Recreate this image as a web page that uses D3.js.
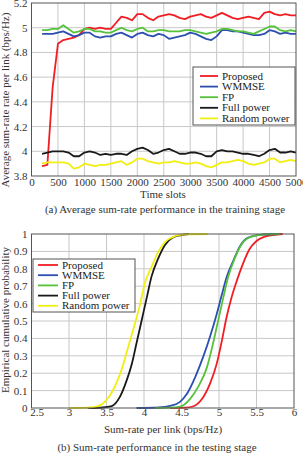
<!DOCTYPE html>
<html>
<head>
<meta charset="utf-8">
<script src="https://cdn.jsdelivr.net/npm/d3@7"></script>
<style>
  body { margin: 0; background: #fff; }
  svg { font-family: "Liberation Serif", "Times New Roman", serif; font-size: 11px; }
  .grid line { stroke: #c8c8c8; stroke-width: 1; }
  .frame { fill: none; stroke: #555; stroke-width: 1; }
  .series { fill: none; stroke-width: 1.8; stroke-linejoin: round; }
</style>
</head>
<body>
<svg id="chart" width="303" height="453"></svg>
<script>
// ---- data (a) training stage ----
var timeSlots = [200, 300, 400, 500, 600, 700, 800, 900, 1000, 1100, 1200, 1300, 1400, 1500, 1600, 1700, 1800, 1900,
  2000, 2100, 2200, 2300, 2400, 2500, 2600, 2700, 2800, 2900, 3000, 3100, 3200, 3300, 3400, 3500, 3600, 3700,
  3800, 3900, 4000, 4100, 4200, 4300, 4400, 4500, 4600, 4700, 4800, 4900, 5000];
var proposedTrain = [3.88, 3.89, 4.52, 4.87, 4.90, 4.91, 4.92, 4.94, 4.99, 5.00, 4.99, 5.00, 4.99, 4.99, 5.04, 5.09, 5.08, 5.06,
  5.11, 5.11, 5.08, 5.06, 5.09, 5.10, 5.11, 5.10, 5.08, 5.07, 5.09, 5.10, 5.11, 5.09, 5.08, 5.10, 5.12, 5.10,
  5.08, 5.07, 5.08, 5.09, 5.08, 5.07, 5.12, 5.13, 5.11, 5.10, 5.11, 5.10, 5.10];
var wmmseTrain = [4.95, 4.95, 4.95, 4.96, 4.97, 4.95, 4.93, 4.94, 4.96, 4.96, 4.93, 4.92, 4.93, 4.93, 4.95, 4.96, 4.94, 4.92,
  4.95, 4.96, 4.94, 4.93, 4.95, 4.94, 4.91, 4.92, 4.93, 4.94, 4.96, 4.95, 4.93, 4.91, 4.90, 4.93, 4.98, 4.98,
  4.97, 4.97, 4.96, 4.95, 4.94, 4.94, 4.95, 4.98, 4.97, 4.95, 4.96, 4.95, 4.95];
var fpTrain = [4.98, 4.98, 4.99, 4.99, 5.02, 4.99, 4.96, 4.97, 4.99, 4.99, 4.97, 4.97, 4.96, 4.96, 4.98, 5.00, 4.98, 4.97,
  4.99, 5.00, 4.97, 4.97, 4.98, 4.98, 4.97, 4.97, 4.97, 4.98, 4.98, 4.97, 4.96, 4.95, 4.96, 4.97, 4.99, 4.99,
  4.98, 4.97, 4.97, 4.96, 4.95, 4.97, 4.99, 5.01, 5.01, 4.98, 4.97, 4.98, 4.97];
var fullTrain = [3.98, 3.99, 4.00, 4.00, 4.00, 3.99, 3.96, 3.96, 3.99, 4.00, 3.99, 3.97, 3.98, 3.97, 3.98, 3.98, 3.97, 4.00,
  4.02, 4.03, 4.01, 3.98, 3.99, 4.01, 4.02, 4.00, 3.98, 3.98, 3.99, 3.99, 3.98, 3.96, 3.96, 4.00, 4.01, 4.00,
  4.00, 3.99, 3.98, 3.98, 3.97, 3.96, 3.98, 4.01, 4.02, 3.99, 3.99, 4.00, 3.99];
var randomTrain = [3.90, 3.91, 3.91, 3.91, 3.91, 3.90, 3.86, 3.87, 3.90, 3.89, 3.88, 3.89, 3.89, 3.90, 3.91, 3.92, 3.89, 3.91,
  3.94, 3.94, 3.92, 3.91, 3.90, 3.91, 3.91, 3.92, 3.91, 3.90, 3.90, 3.91, 3.90, 3.88, 3.87, 3.89, 3.91, 3.91,
  3.92, 3.93, 3.92, 3.90, 3.89, 3.90, 3.91, 3.94, 3.94, 3.91, 3.92, 3.93, 3.92];
var trainXTicks = [0, 500, 1000, 1500, 2000, 2500, 3000, 3500, 4000, 4500, 5000];
var trainYTicks = [3.8, 4, 4.2, 4.4, 4.6, 4.8, 5, 5.2];

// ---- data (b) testing stage, empirical CDF ----
var proposedRate = [4.35, 4.55, 4.66, 4.77, 4.88, 4.97, 5.04, 5.10, 5.17, 5.24, 5.32, 5.41, 5.50, 5.61, 5.77, 5.85];
var proposedProb = [0, 0.002, 0.01, 0.05, 0.14, 0.255, 0.39, 0.52, 0.64, 0.735, 0.83, 0.915, 0.96, 0.985, 0.997, 1];
var wmmseRate = [3.90, 4.20, 4.35, 4.48, 4.57, 4.68, 4.79, 4.88, 4.97, 5.04, 5.10, 5.19, 5.28, 5.37, 5.55, 5.81];
var wmmseProb = [0, 0.003, 0.012, 0.035, 0.08, 0.175, 0.295, 0.41, 0.54, 0.655, 0.75, 0.845, 0.93, 0.975, 0.995, 1];
var fpRate = [4.15, 4.35, 4.48, 4.61, 4.72, 4.84, 4.92, 4.99, 5.06, 5.12, 5.21, 5.30, 5.43, 5.64, 5.81];
var fpProb = [0, 0.002, 0.008, 0.05, 0.12, 0.235, 0.37, 0.505, 0.64, 0.75, 0.86, 0.94, 0.985, 0.998, 1];
var fullRate = [3.25, 3.45, 3.57, 3.68, 3.77, 3.84, 3.90, 3.97, 4.04, 4.10, 4.19, 4.28, 4.39, 4.50, 4.60];
var fullProb = [0, 0.003, 0.011, 0.065, 0.16, 0.257, 0.372, 0.506, 0.64, 0.755, 0.86, 0.937, 0.981, 0.994, 1];
var randomRate = [3.00, 3.25, 3.39, 3.50, 3.61, 3.70, 3.79, 3.88, 3.95, 4.01, 4.10, 4.19, 4.28, 4.41, 4.55, 4.85];
var randomProb = [0, 0.002, 0.011, 0.046, 0.122, 0.218, 0.352, 0.487, 0.60, 0.716, 0.81, 0.897, 0.954, 0.987, 0.998, 1];
var testXTicks = [2.5, 3, 3.5, 4, 4.5, 5, 5.5, 6];
var testYTicks = [0, 0.1, 0.2, 0.3, 0.4, 0.5, 0.6, 0.7, 0.8, 0.9, 1];

var seriesNames = ["Proposed", "WMMSE", "FP", "Full power", "Random power"];
var colors = ["#f01e23", "#2d4fb0", "#55c23a", "#1a1a1a", "#f2ee10"];

var svg = d3.select("#chart");
var fmt = function(d) { return String(d); };

// strip the axis defaults so the serif font from the css applies
function plainAxis(a) {
  a.attr("font-family", null).attr("font-size", null);
  a.select(".domain").remove();
  a.selectAll("text").attr("fill", "#333");
}

// ---------- (a) ----------
var xA = d3.scaleLinear().domain([0, 5000]).range([31.5, 296]);
var yA = d3.scaleLinear().domain([3.8, 5.2]).range([176, 3]);

var gA = svg.append("g");
gA.append("g").attr("class", "grid")
  .selectAll("line").data(trainXTicks.slice(1, -1)).enter().append("line")
    .attr("x1", function(d) { return xA(d); }).attr("x2", function(d) { return xA(d); })
    .attr("y1", yA.range()[0]).attr("y2", yA.range()[1]);
gA.append("g").attr("class", "grid")
  .selectAll("line").data(trainYTicks.slice(1, -1)).enter().append("line")
    .attr("y1", function(d) { return yA(d); }).attr("y2", function(d) { return yA(d); })
    .attr("x1", xA.range()[0]).attr("x2", xA.range()[1]);

var trainSeries = [proposedTrain, wmmseTrain, fpTrain, fullTrain, randomTrain];
var lineA = d3.line()
  .x(function(d, i) { return xA(timeSlots[i]); })
  .y(function(d) { return yA(d); });
trainSeries.forEach(function(s, k) {
  gA.append("path").datum(s).attr("class", "series")
    .attr("stroke", colors[k]).attr("d", lineA);
});

gA.append("rect").attr("class", "frame")
  .attr("x", xA.range()[0]).attr("y", yA.range()[1])
  .attr("width", xA.range()[1] - xA.range()[0]).attr("height", yA.range()[0] - yA.range()[1]);

var axA = gA.append("g").attr("transform", "translate(0," + yA.range()[0] + ")")
  .call(d3.axisBottom(xA).tickValues(trainXTicks).tickFormat(fmt).tickSize(0).tickPadding(2));
var ayA = gA.append("g").attr("transform", "translate(" + xA.range()[0] + ",0)")
  .call(d3.axisLeft(yA).tickValues(trainYTicks).tickFormat(fmt).tickSize(0).tickPadding(4));
plainAxis(axA);
plainAxis(ayA);

gA.append("text").attr("x", 163).attr("y", 198).attr("text-anchor", "middle").attr("fill", "#333").text("Time slots");
gA.append("text").attr("transform", "translate(9,100) rotate(-90)").attr("text-anchor", "middle")
  .attr("fill", "#333").text("Average sum-rate rate per link (bps/Hz)");
gA.append("text").attr("x", 165).attr("y", 213).attr("text-anchor", "middle").attr("fill", "#333")
  .text("(a) Average sum-rate performance in the training stage");

// legend (a)
var legA = gA.append("g").attr("transform", "translate(193,67)");
legA.append("rect").attr("width", 102).attr("height", 58).attr("fill", "#fff").attr("stroke", "#555");
seriesNames.forEach(function(n, k) {
  var yy = 9 + k * 10.6;
  legA.append("line").attr("x1", 7).attr("x2", 25).attr("y1", yy).attr("y2", yy)
    .attr("stroke", colors[k]).attr("stroke-width", 1.8);
  legA.append("text").attr("x", 29).attr("y", yy + 3.5).attr("fill", "#222").text(n);
});

// ---------- (b) ----------
var xB = d3.scaleLinear().domain([2.5, 6]).range([31.5, 294]);
var yB = d3.scaleLinear().domain([0, 1]).range([408, 234]);

var gB = svg.append("g");
gB.append("g").attr("class", "grid")
  .selectAll("line").data(testXTicks.slice(1, -1)).enter().append("line")
    .attr("x1", function(d) { return xB(d); }).attr("x2", function(d) { return xB(d); })
    .attr("y1", yB.range()[0]).attr("y2", yB.range()[1]);
gB.append("g").attr("class", "grid")
  .selectAll("line").data(testYTicks.slice(1, -1)).enter().append("line")
    .attr("y1", function(d) { return yB(d); }).attr("y2", function(d) { return yB(d); })
    .attr("x1", xB.range()[0]).attr("x2", xB.range()[1]);

var cdfRates = [proposedRate, wmmseRate, fpRate, fullRate, randomRate];
var cdfProbs = [proposedProb, wmmseProb, fpProb, fullProb, randomProb];
cdfRates.forEach(function(r, k) {
  var p = cdfProbs[k];
  var lineB = d3.line().curve(d3.curveMonotoneX)
    .x(function(d) { return xB(d); })
    .y(function(d, i) { return yB(p[i]); });
  gB.append("path").datum(r).attr("class", "series")
    .attr("stroke", colors[k]).attr("d", lineB);
});

gB.append("rect").attr("class", "frame")
  .attr("x", xB.range()[0]).attr("y", yB.range()[1])
  .attr("width", xB.range()[1] - xB.range()[0]).attr("height", yB.range()[0] - yB.range()[1]);

var axB = gB.append("g").attr("transform", "translate(0," + yB.range()[0] + ")")
  .call(d3.axisBottom(xB).tickValues(testXTicks).tickFormat(fmt).tickSize(0).tickPadding(0));
var ayB = gB.append("g").attr("transform", "translate(" + xB.range()[0] + ",0)")
  .call(d3.axisLeft(yB).tickValues(testYTicks).tickFormat(fmt).tickSize(0).tickPadding(4));
plainAxis(axB);
plainAxis(ayB);
// first x label sits a little right of the corner, as in the source figure
axB.selectAll(".tick text").filter(function(d) { return d === 2.5; }).attr("dx", 5);

gB.append("text").attr("x", 163).attr("y", 433).attr("text-anchor", "middle").attr("fill", "#333")
  .text("Sum-rate per link (bps/Hz)");
gB.append("text").attr("transform", "translate(9,320) rotate(-90)").attr("text-anchor", "middle")
  .attr("fill", "#333").text("Empirical cumulative probability");
gB.append("text").attr("x", 157).attr("y", 451).attr("text-anchor", "middle").attr("fill", "#333")
  .text("(b) Sum-rate performance in the testing stage");

// legend (b)
var legB = gB.append("g").attr("transform", "translate(33,259)");
legB.append("rect").attr("width", 102).attr("height", 53).attr("fill", "#fff").attr("stroke", "#555");
seriesNames.forEach(function(n, k) {
  var yy = 6 + k * 10.2;
  legB.append("line").attr("x1", 5).attr("x2", 25).attr("y1", yy).attr("y2", yy)
    .attr("stroke", colors[k]).attr("stroke-width", 1.8);
  legB.append("text").attr("x", 29).attr("y", yy + 3.5).attr("fill", "#222").text(n);
});
</script>
</body>
</html>
